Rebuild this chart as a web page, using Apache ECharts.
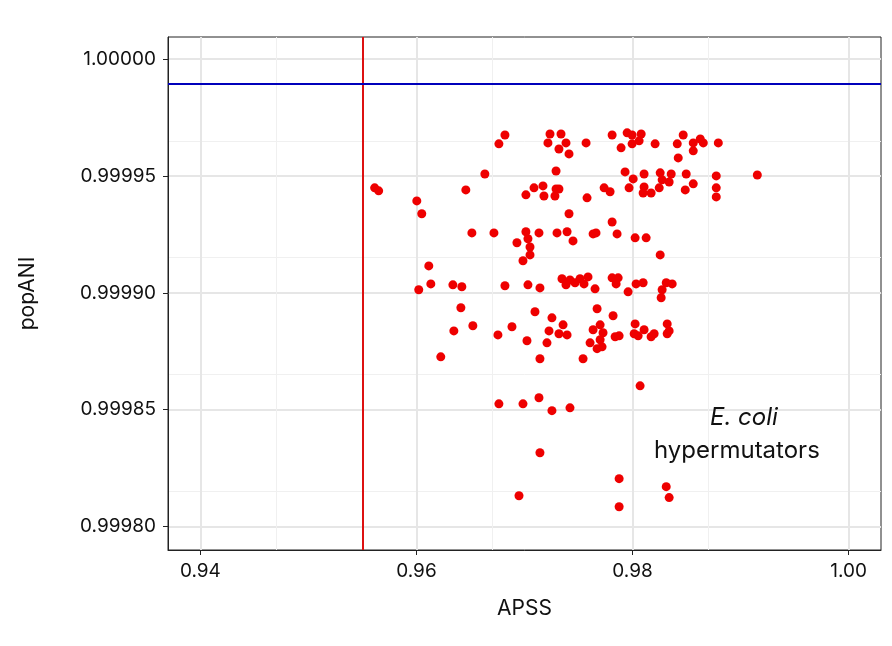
<!DOCTYPE html>
<html lang="en">
<head>
<meta charset="UTF-8">
<title>popANI vs APSS</title>
<script src="https://cdn.jsdelivr.net/npm/echarts@6/dist/echarts.min.js"></script>
<style>
  html, body { margin: 0; padding: 0; background: #fff; }
  #chart { width: 892px; height: 646px; }
</style>
</head>
<body>
<div id="chart"></div>
<script>
// values
var apss = [
  0.96819, 0.96763, 0.97236, 0.97338, 0.97217, 0.97384, 0.97319, 0.97412, 0.97570, 0.97811,
  0.97894, 0.97950, 0.97996, 0.98080, 0.98061, 0.97996, 0.98209, 0.98414, 0.98469, 0.98562,
  0.98627, 0.98655, 0.98562, 0.98423, 0.98794,
  0.96633, 0.97292, 0.97931, 0.98107, 0.98256, 0.98358, 0.98497, 0.98775, 0.99155, 0.98006,
  0.98274, 0.98339, 0.98562, 0.98775, 0.98775, 0.98488, 0.98247, 0.98107, 0.97968, 0.98172,
  0.98098, 0.97737, 0.97792, 0.97579, 0.97292, 0.97319, 0.97282, 0.97171, 0.97180, 0.97088,
  0.97013, 0.96457, 0.95613, 0.95650, 0.96003, 0.96049, 0.97412, 0.97811,
  0.96513, 0.96717, 0.97013, 0.97134, 0.97301, 0.97394, 0.97449, 0.97635, 0.97662, 0.97857,
  0.98024, 0.98126, 0.96930, 0.97032, 0.97051,
  0.98256, 0.96986, 0.97051, 0.96114, 0.96021, 0.96133, 0.96337, 0.96420, 0.96819, 0.97032,
  0.97143, 0.97347, 0.97421, 0.97514, 0.97588, 0.97384, 0.97468, 0.97551, 0.97653, 0.97811,
  0.97867, 0.97848, 0.97959, 0.98033, 0.98098, 0.98312, 0.98367, 0.98274, 0.98265,
  0.96411, 0.97097, 0.97254, 0.97672, 0.97820, 0.96346, 0.96522, 0.96754, 0.96884, 0.97023,
  0.97227, 0.97357, 0.97319, 0.97394, 0.97208, 0.97635, 0.97700, 0.97727, 0.97607, 0.97700,
  0.97672, 0.97718, 0.97839, 0.97876, 0.98024, 0.98015, 0.98052, 0.98107, 0.98172, 0.98200,
  0.98321, 0.98321, 0.98339, 0.96225, 0.97143, 0.97542,
  0.98070, 0.96986, 0.96763, 0.97134, 0.97254, 0.97421, 0.97143, 0.96949, 0.97876, 0.97876,
  0.98312, 0.98339
];
var popani = [
  0.9999675, 0.9999637, 0.9999679, 0.9999679, 0.9999641, 0.9999641, 0.9999615, 0.9999594, 0.9999641, 0.9999675,
  0.9999620, 0.9999684, 0.9999675, 0.9999679, 0.9999650, 0.9999637, 0.9999637, 0.9999637, 0.9999675, 0.9999641,
  0.9999658, 0.9999641, 0.9999607, 0.9999577, 0.9999641,
  0.9999508, 0.9999521, 0.9999517, 0.9999508, 0.9999513, 0.9999508, 0.9999508, 0.9999500, 0.9999504, 0.9999487,
  0.9999483, 0.9999474, 0.9999466, 0.9999449, 0.9999410, 0.9999440, 0.9999449, 0.9999453, 0.9999449, 0.9999427,
  0.9999427, 0.9999449, 0.9999432, 0.9999406, 0.9999444, 0.9999444, 0.9999414, 0.9999457, 0.9999414, 0.9999449,
  0.9999419, 0.9999440, 0.9999449, 0.9999436, 0.9999393, 0.9999338, 0.9999338, 0.9999303,
  0.9999256, 0.9999256, 0.9999261, 0.9999256, 0.9999256, 0.9999261, 0.9999222, 0.9999252, 0.9999256, 0.9999252,
  0.9999235, 0.9999235, 0.9999214, 0.9999231, 0.9999196,
  0.9999162, 0.9999137, 0.9999162, 0.9999115, 0.9999013, 0.9999038, 0.9999034, 0.9999026, 0.9999030, 0.9999034,
  0.9999021, 0.9999060, 0.9999055, 0.9999060, 0.9999068, 0.9999034, 0.9999043, 0.9999038, 0.9999017, 0.9999064,
  0.9999064, 0.9999038, 0.9999004, 0.9999038, 0.9999043, 0.9999043, 0.9999038, 0.9999013, 0.9998979,
  0.9998936, 0.9998919, 0.9998893, 0.9998932, 0.9998902, 0.9998837, 0.9998859, 0.9998820, 0.9998855, 0.9998795,
  0.9998837, 0.9998863, 0.9998825, 0.9998820, 0.9998786, 0.9998842, 0.9998863, 0.9998829, 0.9998786, 0.9998799,
  0.9998761, 0.9998769, 0.9998812, 0.9998816, 0.9998867, 0.9998825, 0.9998816, 0.9998842, 0.9998812, 0.9998825,
  0.9998867, 0.9998825, 0.9998837, 0.9998726, 0.9998718, 0.9998718,
  0.9998602, 0.9998525, 0.9998525, 0.9998551, 0.9998496, 0.9998508, 0.9998316, 0.9998132, 0.9998205, 0.9998085,
  0.9998171, 0.9998124
];
var apssCutoff = 0.955;
var popaniCutoff = 0.9999893;
var xTicks = [0.94, 0.96, 0.98, 1.00];
var yTicks = [0.99980, 0.99985, 0.99990, 0.99995, 1.00000];

var points = apss.map(function (x, i) { return [x, popani[i]]; });

var myChart = echarts.init(document.getElementById('chart'));
var font = 'Inter, "Noto Sans", sans-serif';
var option = {
  backgroundColor: '#fff',
  animation: false,
  grid: {
    left: 168, right: 11, top: 37, bottom: 96,
    show: true, borderColor: '#222', borderWidth: 1
  },
  xAxis: {
    type: 'value',
    min: 0.937, max: 1.003,
    interval: 0.02,
    name: 'APSS', nameLocation: 'middle', nameGap: 48,
    nameTextStyle: { fontFamily: font, fontSize: 21, color: '#111' },
    axisLine: { lineStyle: { color: '#222' } },
    axisTick: { show: true, length: 5, lineStyle: { color: '#222' }, customValues: xTicks },
    axisLabel: { fontFamily: font, fontSize: 19, color: '#111', margin: 12,
      customValues: xTicks, formatter: function (v) { return v.toFixed(2); } },
    splitLine: { lineStyle: { color: '#e6e6e6', width: 2 } },
    minorTick: { show: false, splitNumber: 2 },
    minorSplitLine: { show: true, lineStyle: { color: '#f0f0f0', width: 1 } }
  },
  yAxis: {
    type: 'value',
    min: 0.99979, max: 1.0000094,
    interval: 0.00005,
    name: 'popANI', nameLocation: 'middle', nameGap: 130,
    nameTextStyle: { fontFamily: font, fontSize: 21, color: '#111' },
    axisLine: { show: true, lineStyle: { color: '#222' } },
    axisTick: { show: true, length: 5, lineStyle: { color: '#222' }, customValues: yTicks },
    axisLabel: { fontFamily: font, fontSize: 19, color: '#111', margin: 12,
      customValues: yTicks, formatter: function (v) { return v.toFixed(5); } },
    splitLine: { lineStyle: { color: '#e6e6e6', width: 2 } },
    minorTick: { show: false, splitNumber: 2 },
    minorSplitLine: { show: true, lineStyle: { color: '#f0f0f0', width: 1 } }
  },
  series: [{
    type: 'scatter',
    data: points,
    symbolSize: 9,
    itemStyle: { color: '#ee0000', opacity: 1 },
    markLine: {
      silent: true, symbol: 'none', label: { show: false }, precision: 8,
      data: [
        { xAxis: apssCutoff, lineStyle: { color: '#dd1111', width: 2, type: 'solid' } },
        { yAxis: popaniCutoff, lineStyle: { color: '#0000bb', width: 2, type: 'solid' } }
      ]
    }
  }],
  graphic: [
    { type: 'text', left: 710, top: 406, z: 100,
      style: { text: 'E. coli', fontFamily: font, fontSize: 24, fontStyle: 'italic', fill: '#111' } },
    { type: 'text', left: 654, top: 439, z: 100,
      style: { text: 'hypermutators', fontFamily: font, fontSize: 24, fill: '#111' } }
  ]
};
myChart.setOption(option);
</script>
</body>
</html>
